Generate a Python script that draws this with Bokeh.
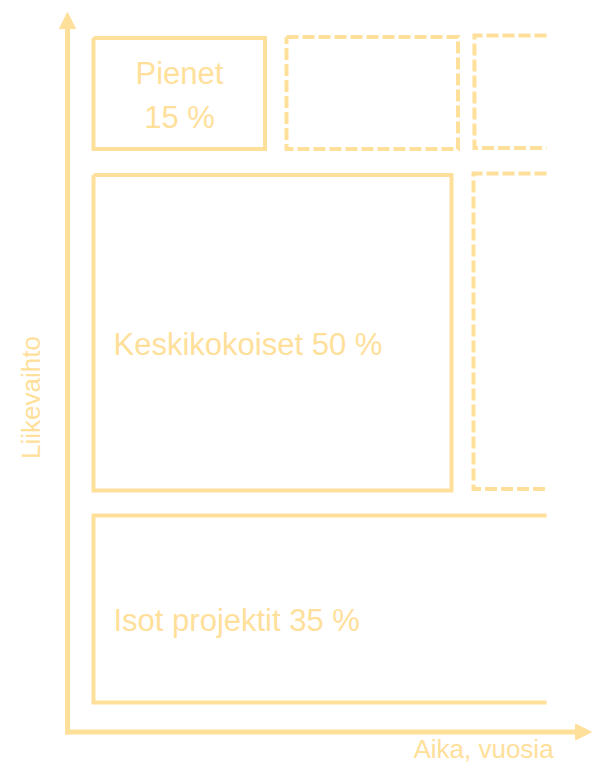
import math
from bokeh.plotting import figure
from bokeh.models import Range1d, Arrow, NormalHead
from bokeh.core.properties import value
from bokeh.embed import file_html
from bokeh.resources import INLINE

# ---- data ----
segments = ["Pienet", "Keskikokoiset", "Isot projektit"]
shares = [15, 50, 35]
x_label = "Aika, vuosia"
y_label = "Liikevaihto"

# ---- layout (reference pixel coordinates) ----
W, H = 592, 766
PAGE_H = 782
COLOR = "#FFE09A"
FONT = value("Liberation Sans")

def Y(y):
    return PAGE_H - y

box_left = [93, 93, 93]
box_right = [264.5, 451, 546]
box_top = [37.5, 174.5, 515]
box_bottom = [148.5, 490, 702]
box_closed = [True, True, False]

future_left = [286, 474, 473]
future_right = [457.5, 546, 546]
future_top = [36.5, 35, 173]
future_bottom = [148.5, 147.5, 488.5]
future_closed = [True, False, False]

label_x = [179, 113, 113]
label_y = [95, 343.5, 620]
label_align = ["center", "left", "left"]
label_base = ["middle", "alphabetic", "alphabetic"]


def paths(lefts, rights, tops, bottoms, closed):
    xs, ys = [], []
    for l, r, t, b, c in zip(lefts, rights, tops, bottoms, closed):
        if c:
            xs.append([l, r, r, l, l])
            ys.append([Y(t), Y(t), Y(b), Y(b), Y(t)])
        else:
            xs.append([r, l, l, r])
            ys.append([Y(t), Y(t), Y(b), Y(b)])
    return xs, ys


p = figure(width=W, height=H, output_backend="svg", toolbar_location=None,
           x_range=Range1d(0, W), y_range=Range1d(PAGE_H - H, PAGE_H),
           x_axis_location=None, y_axis_location=None, min_border=0)
p.grid.visible = False
p.outline_line_color = None
p.background_fill_color = "white"
p.border_fill_color = "white"

# solid boxes
xs, ys = paths(box_left, box_right, box_top, box_bottom, box_closed)
p.multi_line(xs, ys, line_color=COLOR, line_width=4, line_join="miter")

# dashed boxes
xs, ys = paths(future_left, future_right, future_top, future_bottom, future_closed)
p.multi_line(xs, ys, line_color=COLOR, line_width=4, line_dash="12 4", line_join="miter")

# axes arrows
p.add_layout(Arrow(x_start=67, y_start=Y(734), x_end=67, y_end=Y(12),
                   line_color=COLOR, line_width=5,
                   end=NormalHead(size=16, fill_color=COLOR, line_color=COLOR, line_width=1)))
p.add_layout(Arrow(x_start=64.5, y_start=Y(731.5), x_end=W - 1, y_end=Y(731.5),
                   line_color=COLOR, line_width=5,
                   end=NormalHead(size=16, fill_color=COLOR, line_color=COLOR, line_width=1)))

# segment labels
texts = []
for name, s in zip(segments, shares):
    if name == "Pienet":
        texts.append(f"{name}\n{s} %")
    else:
        texts.append(f"{name} {s} %")

for t, x, y, a, b in zip(texts, label_x, label_y, label_align, label_base):
    p.text(x=[x], y=[Y(y)], text=[t], text_color=COLOR, text_font=FONT,
           text_font_size="31px", text_align=a, text_baseline=b,
           text_line_height=1.24)

# axis titles
p.text(x=[483], y=[Y(748)], text=[x_label], text_color=COLOR, text_font=FONT,
       text_font_size="26px", text_align="center", text_baseline="alphabetic")
p.text(x=[30], y=[Y(397)], text=[y_label], text_color=COLOR, text_font=FONT,
       text_font_size="26px", text_align="center", text_baseline="alphabetic",
       angle=math.pi / 2)

open("out.html", "w").write(file_html(p, INLINE))
